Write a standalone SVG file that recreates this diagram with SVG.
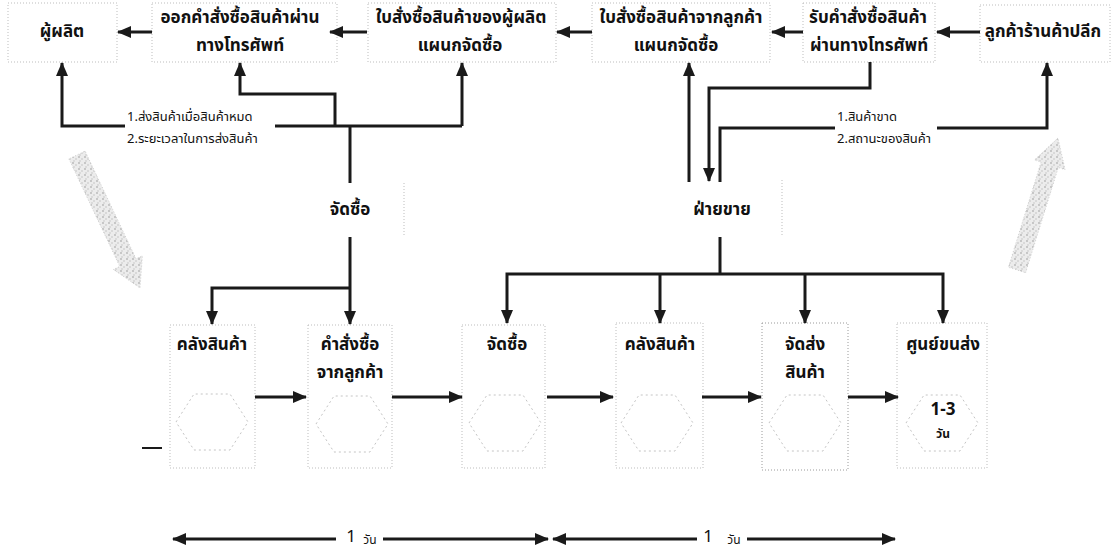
<svg xmlns="http://www.w3.org/2000/svg" width="1117" height="551" viewBox="0 0 1117 551">
<style>
text{font-family:"Noto Sans Thai","Loma","Tlwg Typist","DejaVu Sans","Liberation Sans",sans-serif;fill:#111;text-anchor:middle;dominant-baseline:central}
.t{font-size:17px;font-weight:bold}
.m{font-size:17px;font-weight:bold}
.s{font-size:13px;text-anchor:start}
.box{fill:none;stroke:#bdbdbd;stroke-width:1;stroke-dasharray:1 2}
.hex{fill:none;stroke:#c4c4c4;stroke-width:1;stroke-dasharray:2 3}
.ln{fill:none;stroke:#1a1a1a;stroke-width:3}
.ar{fill:none;stroke:#1a1a1a;stroke-width:3;marker-end:url(#ah)}
.hatch{fill:url(#dots);stroke:#cfcfcf;stroke-width:1;stroke-dasharray:1 2}
</style>
<defs>
<marker id="ah" viewBox="0 0 14 12" markerWidth="14" markerHeight="12" refX="13" refY="6" orient="auto-start-reverse" markerUnits="userSpaceOnUse">
<path d="M0,0 L14,6 L0,12 z" fill="#1a1a1a"/>
</marker>
<pattern id="dots" width="6" height="6" patternUnits="userSpaceOnUse">
<rect width="6" height="6" fill="#ececec"/>
<circle cx="1" cy="1" r="0.9" fill="#b5b5b5"/>
<circle cx="4" cy="3" r="0.8" fill="#c2c2c2"/>
<circle cx="2" cy="5" r="0.7" fill="#bdbdbd"/>
</pattern>
<polygon id="hx" points="-36,0 -18,-28 18,-28 36,0 18,28 -18,28"/>
</defs>
<rect width="1117" height="551" fill="#ffffff"/>

<g id="hatch-arrows">
<polygon class="hatch" points="68.9,158.9 119.8,266.5 113.4,269.4 140,288 142.4,255.8 136,258.7 85.1,151.1"/>
<polygon class="hatch" points="1025.6,272.7 1058.3,167.5 1065,169.6 1058,138 1034.4,160 1041.1,162.1 1008.4,267.3"/>
</g>

<g id="n-producer">
<rect class="box" x="8" y="3" width="109" height="59"/>
<text class="t" x="62" y="32">ผู้ผลิต</text>
</g>
<g id="n-phone-order">
<rect class="box" x="152" y="3" width="185" height="59"/>
<text class="t" x="240" y="18">ออกคำสั่งซื้อสินค้าผ่าน</text>
<text class="t" x="240" y="46">ทางโทรศัพท์</text>
</g>
<g id="n-po-producer">
<rect class="box" x="368" y="3" width="188" height="59"/>
<text class="t" x="461" y="18">ใบสั่งซื้อสินค้าของผู้ผลิต</text>
<text class="t" x="460" y="46">แผนกจัดซื้อ</text>
</g>
<g id="n-po-customer">
<rect class="box" x="592" y="3" width="178" height="59"/>
<text class="t" x="681" y="18">ใบสั่งซื้อสินค้าจากลูกค้า</text>
<text class="t" x="676" y="46">แผนกจัดซื้อ</text>
</g>
<g id="n-receive-order">
<rect class="box" x="803" y="3" width="132" height="59"/>
<text class="t" x="868" y="18">รับคำสั่งซื้อสินค้า</text>
<text class="t" x="869" y="46">ผ่านทางโทรศัพท์</text>
</g>
<g id="n-retailer">
<rect class="box" x="980" y="5" width="130" height="57"/>
<text class="t" x="1043" y="32">ลูกค้าร้านค้าปลีก</text>
</g>

<g id="n-purchasing">
<line class="box" x1="404" y1="183" x2="404" y2="235"/>
<text class="m" x="350" y="210">จัดซื้อ</text>
</g>
<g id="n-sales">
<line class="box" x1="782" y1="180" x2="782" y2="237"/>
<text class="m" x="722" y="210">ฝ่ายขาย</text>
</g>

<g id="n-warehouse1">
<rect class="box" x="170" y="325" width="85" height="143"/>
<use href="#hx" class="hex" x="212" y="422"/>
<text class="t" x="212" y="345">คลังสินค้า</text>
</g>
<g id="n-customer-order">
<rect class="box" x="308" y="325" width="84" height="143"/>
<use href="#hx" class="hex" x="352" y="424"/>
<text class="t" x="350" y="345">คำสั่งซื้อ</text>
<text class="t" x="350" y="373">จากลูกค้า</text>
</g>
<g id="n-purchase2">
<rect class="box" x="462" y="325" width="83" height="143"/>
<use href="#hx" class="hex" x="505" y="423"/>
<text class="t" x="507" y="345">จัดซื้อ</text>
</g>
<g id="n-warehouse2">
<rect class="box" x="616" y="323" width="87" height="145"/>
<use href="#hx" class="hex" x="657" y="423"/>
<text class="t" x="660" y="345">คลังสินค้า</text>
</g>
<g id="n-delivery">
<rect class="box" x="762" y="323" width="86" height="147" style="stroke:#9a9a9a"/>
<use href="#hx" class="hex" x="805" y="423"/>
<text class="t" x="805" y="345">จัดส่ง</text>
<text class="t" x="805" y="373">สินค้า</text>
</g>
<g id="n-transport">
<rect class="box" x="897" y="323" width="90" height="145"/>
<use href="#hx" class="hex" x="942" y="423"/>
<text class="t" x="943" y="345">ศูนย์ขนส่ง</text>
<text x="943" y="410" style="font-size:17px;font-weight:bold">1-3</text>
<text x="943" y="434" style="font-size:12px;font-weight:bold">วัน</text>
</g>

<g id="labels">
<text class="s" x="127" y="117">1.ส่งสินค้าเมื่อสินค้าหมด</text>
<text class="s" x="127" y="139">2.ระยะเวลาในการส่งสินค้า</text>
<text class="s" x="837" y="117">1.สินค้าขาด</text>
<text class="s" x="837" y="139">2.สถานะของสินค้า</text>
<text x="351" y="537" style="font-size:17px">1</text>
<text x="370" y="540" style="font-size:12px">วัน</text>
<text x="708" y="537" style="font-size:17px">1</text>
<text x="734" y="540" style="font-size:12px">วัน</text>
</g>

<g id="connectors">
<line class="ar" x1="152" y1="32" x2="118" y2="32"/>
<line class="ar" x1="367" y1="32" x2="330" y2="32"/>
<line class="ar" x1="592" y1="32" x2="557" y2="32"/>
<line class="ar" x1="803" y1="32" x2="772" y2="32"/>
<line class="ar" x1="980" y1="32" x2="937" y2="32"/>

<polyline class="ar" points="125,126 62,126 62,63"/>
<polyline class="ln" points="275,126 462,126"/>
<line class="ar" x1="462" y1="126" x2="462" y2="63"/>
<polyline class="ar" points="335,126 335,94 240,94 240,63"/>
<line class="ln" x1="350" y1="126" x2="350" y2="183"/>

<line class="ar" x1="689" y1="182" x2="689" y2="63"/>
<polyline class="ar" points="870,62 870,88 709,88 709,181"/>
<polyline class="ln" points="720,182 720,128 835,128"/>
<polyline class="ar" points="937,128 1047,128 1047,63"/>

<line class="ln" x1="350" y1="237" x2="350" y2="288"/>
<polyline class="ar" points="350,288 212,288 212,324"/>
<line class="ar" x1="350" y1="288" x2="350" y2="324"/>

<line class="ln" x1="720" y1="237" x2="720" y2="274"/>
<polyline class="ar" points="720,274 507,274 507,323"/>
<polyline class="ar" points="720,274 943,274 943,323"/>
<line class="ar" x1="660" y1="274" x2="660" y2="323"/>
<line class="ar" x1="805" y1="274" x2="805" y2="323"/>

<line class="ar" x1="255" y1="397" x2="306" y2="397"/>
<line class="ar" x1="392" y1="397" x2="462" y2="397"/>
<line class="ar" x1="547" y1="397" x2="613" y2="397"/>
<line class="ar" x1="702" y1="397" x2="761" y2="397"/>
<line class="ar" x1="848" y1="397" x2="898" y2="397"/>
<line x1="142" y1="448" x2="162" y2="448" stroke="#1a1a1a" stroke-width="2"/>

<line class="ln" x1="173" y1="539" x2="336" y2="539" style="marker-start:url(#ah)"/>
<line class="ar" x1="383" y1="539" x2="548" y2="539"/>
<line class="ln" x1="553" y1="539" x2="697" y2="539" style="marker-start:url(#ah)"/>
<line class="ar" x1="747" y1="539" x2="895" y2="539"/>
</g>
</svg>
